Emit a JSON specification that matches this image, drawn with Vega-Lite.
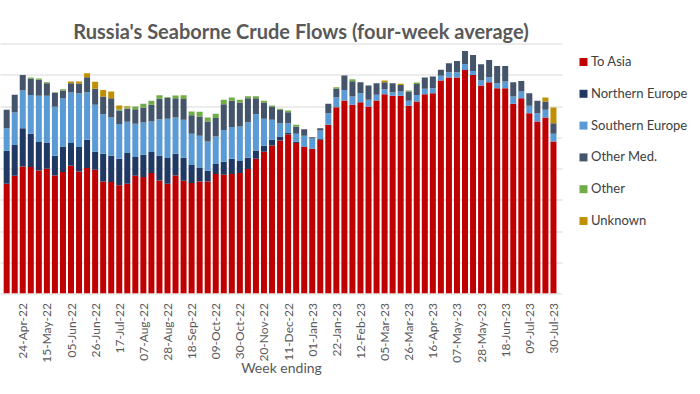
{
  "$schema": "https://vega.github.io/schema/vega-lite/v6.json",
  "width": 562,
  "height": 250,
  "autosize": {"type": "none"},
  "padding": {"left": 0, "top": 43.5, "right": 138, "bottom": 100.5},
  "background": "white",
  "title": {
    "text": "Russia's Seaborne Crude Flows (four-week average)",
    "font": "Lato",
    "fontSize": 20,
    "fontWeight": "bold",
    "color": "#595959",
    "frame": "group",
    "anchor": "middle",
    "baseline": "alphabetic",
    "dx": 20,
    "dy": 20,
    "offset": 4.5
  },
  "datasets": {
    "ranks": [
      {"dest": "To Asia", "rank": 1},
      {"dest": "Northern Europe", "rank": 2},
      {"dest": "Southern Europe", "rank": 3},
      {"dest": "Other Med", "rank": 4},
      {"dest": "Other", "rank": 5},
      {"dest": "Unknown", "rank": 6}
    ]
  },
  "data": {
    "values": [
      {"week": "2022-04-10", "To Asia": 1.757, "Northern Europe": 0.527, "Southern Europe": 0.362, "Other Med": 0.293, "Other": 0, "Unknown": 0},
      {"week": "2022-04-17", "To Asia": 1.885, "Northern Europe": 0.49, "Southern Europe": 0.522, "Other Med": 0.282, "Other": 0, "Unknown": 0},
      {"week": "2022-04-24", "To Asia": 2.034, "Northern Europe": 0.612, "Southern Europe": 0.602, "Other Med": 0.25, "Other": 0, "Unknown": 0},
      {"week": "2022-05-01", "To Asia": 2.023, "Northern Europe": 0.532, "Southern Europe": 0.623, "Other Med": 0.261, "Other": 0.016, "Unknown": 0},
      {"week": "2022-05-08", "To Asia": 1.97, "Northern Europe": 0.453, "Southern Europe": 0.74, "Other Med": 0.256, "Other": 0.021, "Unknown": 0},
      {"week": "2022-05-15", "To Asia": 1.997, "Northern Europe": 0.421, "Southern Europe": 0.745, "Other Med": 0.202, "Other": 0.016, "Unknown": 0},
      {"week": "2022-05-22", "To Asia": 1.89, "Northern Europe": 0.314, "Southern Europe": 0.783, "Other Med": 0.224, "Other": 0.011, "Unknown": 0},
      {"week": "2022-05-29", "To Asia": 1.944, "Northern Europe": 0.41, "Southern Europe": 0.767, "Other Med": 0.128, "Other": 0.021, "Unknown": 0},
      {"week": "2022-06-05", "To Asia": 2.045, "Northern Europe": 0.362, "Southern Europe": 0.809, "Other Med": 0.149, "Other": 0, "Unknown": 0.027},
      {"week": "2022-06-12", "To Asia": 1.954, "Northern Europe": 0.389, "Southern Europe": 0.863, "Other Med": 0.154, "Other": 0, "Unknown": 0.032},
      {"week": "2022-06-19", "To Asia": 2.007, "Northern Europe": 0.453, "Southern Europe": 0.761, "Other Med": 0.24, "Other": 0, "Unknown": 0.064},
      {"week": "2022-06-26", "To Asia": 1.981, "Northern Europe": 0.288, "Southern Europe": 0.751, "Other Med": 0.256, "Other": 0, "Unknown": 0.112},
      {"week": "2022-07-03", "To Asia": 1.794, "Northern Europe": 0.442, "Southern Europe": 0.634, "Other Med": 0.282, "Other": 0, "Unknown": 0.106},
      {"week": "2022-07-10", "To Asia": 1.784, "Northern Europe": 0.421, "Southern Europe": 0.612, "Other Med": 0.309, "Other": 0, "Unknown": 0.106},
      {"week": "2022-07-17", "To Asia": 1.731, "Northern Europe": 0.426, "Southern Europe": 0.554, "Other Med": 0.218, "Other": 0.02, "Unknown": 0.06},
      {"week": "2022-07-24", "To Asia": 1.757, "Northern Europe": 0.49, "Southern Europe": 0.5, "Other Med": 0.208, "Other": 0.021, "Unknown": 0.021},
      {"week": "2022-07-31", "To Asia": 1.885, "Northern Europe": 0.298, "Southern Europe": 0.532, "Other Med": 0.234, "Other": 0.043, "Unknown": 0},
      {"week": "2022-08-07", "To Asia": 1.864, "Northern Europe": 0.357, "Southern Europe": 0.516, "Other Med": 0.24, "Other": 0.059, "Unknown": 0},
      {"week": "2022-08-14", "To Asia": 1.928, "Northern Europe": 0.335, "Southern Europe": 0.49, "Other Med": 0.266, "Other": 0.064, "Unknown": 0},
      {"week": "2022-08-21", "To Asia": 1.81, "Northern Europe": 0.394, "Southern Europe": 0.586, "Other Med": 0.325, "Other": 0.059, "Unknown": 0},
      {"week": "2022-08-28", "To Asia": 1.757, "Northern Europe": 0.41, "Southern Europe": 0.628, "Other Med": 0.335, "Other": 0.011, "Unknown": 0},
      {"week": "2022-09-04", "To Asia": 1.89, "Northern Europe": 0.346, "Southern Europe": 0.58, "Other Med": 0.309, "Other": 0.043, "Unknown": 0},
      {"week": "2022-09-11", "To Asia": 1.805, "Northern Europe": 0.367, "Southern Europe": 0.607, "Other Med": 0.335, "Other": 0.059, "Unknown": 0},
      {"week": "2022-09-18", "To Asia": 1.768, "Northern Europe": 0.288, "Southern Europe": 0.5, "Other Med": 0.298, "Other": 0.059, "Unknown": 0},
      {"week": "2022-09-25", "To Asia": 1.794, "Northern Europe": 0.224, "Southern Europe": 0.506, "Other Med": 0.309, "Other": 0.075, "Unknown": 0},
      {"week": "2022-10-02", "To Asia": 1.794, "Northern Europe": 0.17, "Southern Europe": 0.469, "Other Med": 0.319, "Other": 0.064, "Unknown": 0},
      {"week": "2022-10-09", "To Asia": 1.912, "Northern Europe": 0.16, "Southern Europe": 0.442, "Other Med": 0.293, "Other": 0.069, "Unknown": 0},
      {"week": "2022-10-16", "To Asia": 1.901, "Northern Europe": 0.208, "Southern Europe": 0.506, "Other Med": 0.415, "Other": 0.069, "Unknown": 0},
      {"week": "2022-10-23", "To Asia": 1.912, "Northern Europe": 0.245, "Southern Europe": 0.506, "Other Med": 0.421, "Other": 0.053, "Unknown": 0},
      {"week": "2022-10-30", "To Asia": 1.928, "Northern Europe": 0.192, "Southern Europe": 0.554, "Other Med": 0.383, "Other": 0.043, "Unknown": 0},
      {"week": "2022-11-06", "To Asia": 1.991, "Northern Europe": 0.181, "Southern Europe": 0.57, "Other Med": 0.383, "Other": 0.032, "Unknown": 0},
      {"week": "2022-11-13", "To Asia": 2.157, "Northern Europe": 0.133, "Southern Europe": 0.58, "Other Med": 0.256, "Other": 0.032, "Unknown": 0},
      {"week": "2022-11-20", "To Asia": 2.268, "Northern Europe": 0.096, "Southern Europe": 0.431, "Other Med": 0.261, "Other": 0.027, "Unknown": 0},
      {"week": "2022-11-27", "To Asia": 2.37, "Northern Europe": 0.091, "Southern Europe": 0.319, "Other Med": 0.213, "Other": 0.016, "Unknown": 0},
      {"week": "2022-12-04", "To Asia": 2.449, "Northern Europe": 0.064, "Southern Europe": 0.213, "Other Med": 0.213, "Other": 0.016, "Unknown": 0},
      {"week": "2022-12-11", "To Asia": 2.545, "Northern Europe": 0.032, "Southern Europe": 0.149, "Other Med": 0.176, "Other": 0.027, "Unknown": 0},
      {"week": "2022-12-18", "To Asia": 2.407, "Northern Europe": 0.021, "Southern Europe": 0.128, "Other Med": 0.117, "Other": 0.027, "Unknown": 0},
      {"week": "2022-12-25", "To Asia": 2.343, "Northern Europe": 0.011, "Southern Europe": 0.17, "Other Med": 0.106, "Other": 0, "Unknown": 0},
      {"week": "2023-01-01", "To Asia": 2.311, "Northern Europe": 0.005, "Southern Europe": 0.165, "Other Med": 0.021, "Other": 0, "Unknown": 0},
      {"week": "2023-01-08", "To Asia": 2.46, "Northern Europe": 0.011, "Southern Europe": 0.138, "Other Med": 0.037, "Other": 0, "Unknown": 0},
      {"week": "2023-01-15", "To Asia": 2.7, "Northern Europe": 0, "Southern Europe": 0.186, "Other Med": 0.149, "Other": 0, "Unknown": 0},
      {"week": "2023-01-22", "To Asia": 2.982, "Northern Europe": 0, "Southern Europe": 0.16, "Other Med": 0.138, "Other": 0.021, "Unknown": 0},
      {"week": "2023-01-29", "To Asia": 3.088, "Northern Europe": 0, "Southern Europe": 0.17, "Other Med": 0.229, "Other": 0, "Unknown": 0},
      {"week": "2023-02-05", "To Asia": 3.019, "Northern Europe": 0, "Southern Europe": 0.133, "Other Med": 0.245, "Other": 0.032, "Unknown": 0},
      {"week": "2023-02-12", "To Asia": 3.062, "Northern Europe": 0, "Southern Europe": 0.144, "Other Med": 0.176, "Other": 0, "Unknown": 0},
      {"week": "2023-02-19", "To Asia": 2.993, "Northern Europe": 0, "Southern Europe": 0.106, "Other Med": 0.229, "Other": 0, "Unknown": 0},
      {"week": "2023-02-26", "To Asia": 3.088, "Northern Europe": 0, "Southern Europe": 0.091, "Other Med": 0.186, "Other": 0, "Unknown": 0},
      {"week": "2023-03-05", "To Asia": 3.19, "Northern Europe": 0, "Southern Europe": 0.08, "Other Med": 0.112, "Other": 0, "Unknown": 0.027},
      {"week": "2023-03-12", "To Asia": 3.163, "Northern Europe": 0, "Southern Europe": 0.059, "Other Med": 0.144, "Other": 0, "Unknown": 0},
      {"week": "2023-03-19", "To Asia": 3.163, "Northern Europe": 0, "Southern Europe": 0.069, "Other Med": 0.106, "Other": 0, "Unknown": 0.02},
      {"week": "2023-03-26", "To Asia": 3.003, "Northern Europe": 0, "Southern Europe": 0.08, "Other Med": 0.149, "Other": 0.016, "Unknown": 0},
      {"week": "2023-04-02", "To Asia": 3.072, "Northern Europe": 0, "Southern Europe": 0.106, "Other Med": 0.176, "Other": 0.021, "Unknown": 0},
      {"week": "2023-04-09", "To Asia": 3.19, "Northern Europe": 0, "Southern Europe": 0.085, "Other Med": 0.181, "Other": 0, "Unknown": 0},
      {"week": "2023-04-16", "To Asia": 3.206, "Northern Europe": 0, "Southern Europe": 0.08, "Other Med": 0.186, "Other": 0, "Unknown": 0},
      {"week": "2023-04-23", "To Asia": 3.408, "Northern Europe": 0, "Southern Europe": 0.075, "Other Med": 0.096, "Other": 0, "Unknown": 0},
      {"week": "2023-04-30", "To Asia": 3.456, "Northern Europe": 0, "Southern Europe": 0.085, "Other Med": 0.144, "Other": 0, "Unknown": 0},
      {"week": "2023-05-07", "To Asia": 3.456, "Northern Europe": 0, "Southern Europe": 0.085, "Other Med": 0.181, "Other": 0, "Unknown": 0},
      {"week": "2023-05-14", "To Asia": 3.578, "Northern Europe": 0, "Southern Europe": 0.096, "Other Med": 0.208, "Other": 0, "Unknown": 0},
      {"week": "2023-05-21", "To Asia": 3.498, "Northern Europe": 0, "Southern Europe": 0.064, "Other Med": 0.256, "Other": 0, "Unknown": 0},
      {"week": "2023-05-28", "To Asia": 3.328, "Northern Europe": 0, "Southern Europe": 0.08, "Other Med": 0.261, "Other": 0, "Unknown": 0},
      {"week": "2023-06-04", "To Asia": 3.381, "Northern Europe": 0, "Southern Europe": 0.08, "Other Med": 0.277, "Other": 0, "Unknown": 0},
      {"week": "2023-06-11", "To Asia": 3.285, "Northern Europe": 0, "Southern Europe": 0.08, "Other Med": 0.277, "Other": 0, "Unknown": 0},
      {"week": "2023-06-18", "To Asia": 3.285, "Northern Europe": 0, "Southern Europe": 0.106, "Other Med": 0.25, "Other": 0, "Unknown": 0},
      {"week": "2023-06-25", "To Asia": 3.035, "Northern Europe": 0, "Southern Europe": 0.117, "Other Med": 0.229, "Other": 0, "Unknown": 0},
      {"week": "2023-07-02", "To Asia": 3.126, "Northern Europe": 0, "Southern Europe": 0.106, "Other Med": 0.17, "Other": 0, "Unknown": 0},
      {"week": "2023-07-09", "To Asia": 2.886, "Northern Europe": 0, "Southern Europe": 0.117, "Other Med": 0.202, "Other": 0, "Unknown": 0},
      {"week": "2023-07-16", "To Asia": 2.753, "Northern Europe": 0, "Southern Europe": 0.133, "Other Med": 0.197, "Other": 0, "Unknown": 0},
      {"week": "2023-07-23", "To Asia": 2.817, "Northern Europe": 0, "Southern Europe": 0.122, "Other Med": 0.133, "Other": 0, "Unknown": 0.064},
      {"week": "2023-07-30", "To Asia": 2.433, "Northern Europe": 0, "Southern Europe": 0.122, "Other Med": 0.17, "Other": 0, "Unknown": 0.25}
    ]
  },
  "transform": [
    {"fold": ["To Asia", "Northern Europe", "Southern Europe", "Other Med", "Other", "Unknown"], "as": ["dest", "val"]},
    {"lookup": "dest", "from": {"data": {"name": "ranks"}, "key": "dest", "fields": ["rank"]}}
  ],
  "mark": {"type": "bar", "size": 6, "clip": true},
  "encoding": {
    "x": {
      "field": "week",
      "type": "temporal",
      "scale": {"type": "utc", "domain": [1649422800000, 1690941600000]},
      "axis": {
        "title": "Week ending",
        "titleFont": "Lato",
        "titleFontSize": 14,
        "titleFontWeight": "normal",
        "titleColor": "#595959",
        "titlePadding": -1,
        "labelAngle": -90,
        "labelFont": "Lato",
        "labelFontSize": 12,
        "labelColor": "#595959",
        "labelPadding": 9,
        "labelOverlap": false,
        "labelFlush": false,
        "format": "%d-%b-%y",
        "ticks": false,
        "grid": false,
        "domain": true,
        "domainColor": "#d9d9d9",
        "values": [
          {"year": 2022, "month": 4, "date": 24, "utc": true},
          {"year": 2022, "month": 5, "date": 15, "utc": true},
          {"year": 2022, "month": 6, "date": 5, "utc": true},
          {"year": 2022, "month": 6, "date": 26, "utc": true},
          {"year": 2022, "month": 7, "date": 17, "utc": true},
          {"year": 2022, "month": 8, "date": 7, "utc": true},
          {"year": 2022, "month": 8, "date": 28, "utc": true},
          {"year": 2022, "month": 9, "date": 18, "utc": true},
          {"year": 2022, "month": 10, "date": 9, "utc": true},
          {"year": 2022, "month": 10, "date": 30, "utc": true},
          {"year": 2022, "month": 11, "date": 20, "utc": true},
          {"year": 2022, "month": 12, "date": 11, "utc": true},
          {"year": 2023, "month": 1, "date": 1, "utc": true},
          {"year": 2023, "month": 1, "date": 22, "utc": true},
          {"year": 2023, "month": 2, "date": 12, "utc": true},
          {"year": 2023, "month": 3, "date": 5, "utc": true},
          {"year": 2023, "month": 3, "date": 26, "utc": true},
          {"year": 2023, "month": 4, "date": 16, "utc": true},
          {"year": 2023, "month": 5, "date": 7, "utc": true},
          {"year": 2023, "month": 5, "date": 28, "utc": true},
          {"year": 2023, "month": 6, "date": 18, "utc": true},
          {"year": 2023, "month": 7, "date": 9, "utc": true},
          {"year": 2023, "month": 7, "date": 30, "utc": true}
        ]
      }
    },
    "y": {
      "field": "val",
      "type": "quantitative",
      "stack": "zero",
      "scale": {"domain": [0, 4], "nice": false, "zero": true},
      "axis": {
        "values": [0.5, 1, 1.5, 2, 2.5, 3, 3.5, 4],
        "grid": true,
        "gridColor": "#d9d9d9",
        "gridWidth": 1,
        "labels": false,
        "ticks": false,
        "domain": false,
        "title": null
      }
    },
    "order": {"field": "rank", "type": "quantitative", "sort": "ascending"},
    "color": {
      "field": "dest",
      "type": "nominal",
      "sort": ["To Asia", "Northern Europe", "Southern Europe", "Other Med", "Other", "Unknown"],
      "scale": {
        "domain": ["To Asia", "Northern Europe", "Southern Europe", "Other Med", "Other", "Unknown"],
        "range": ["#C00000", "#1F3864", "#5B9BD5", "#44546A", "#70AD47", "#BF9000"]
      },
      "legend": {
        "title": null,
        "orient": "none",
        "legendX": 577,
        "legendY": 12,
        "direction": "vertical",
        "symbolType": "square",
        "symbolSize": 64,
        "symbolStrokeWidth": 0,
        "labelFont": "Lato",
        "labelFontSize": 13,
        "labelColor": "#404040",
        "labelOffset": 1,
        "rowPadding": 17.8,
        "labelExpr": "datum.label == 'Other Med' ? 'Other Med.' : datum.label"
      }
    }
  },
  "config": {"view": {"stroke": null}}
}
